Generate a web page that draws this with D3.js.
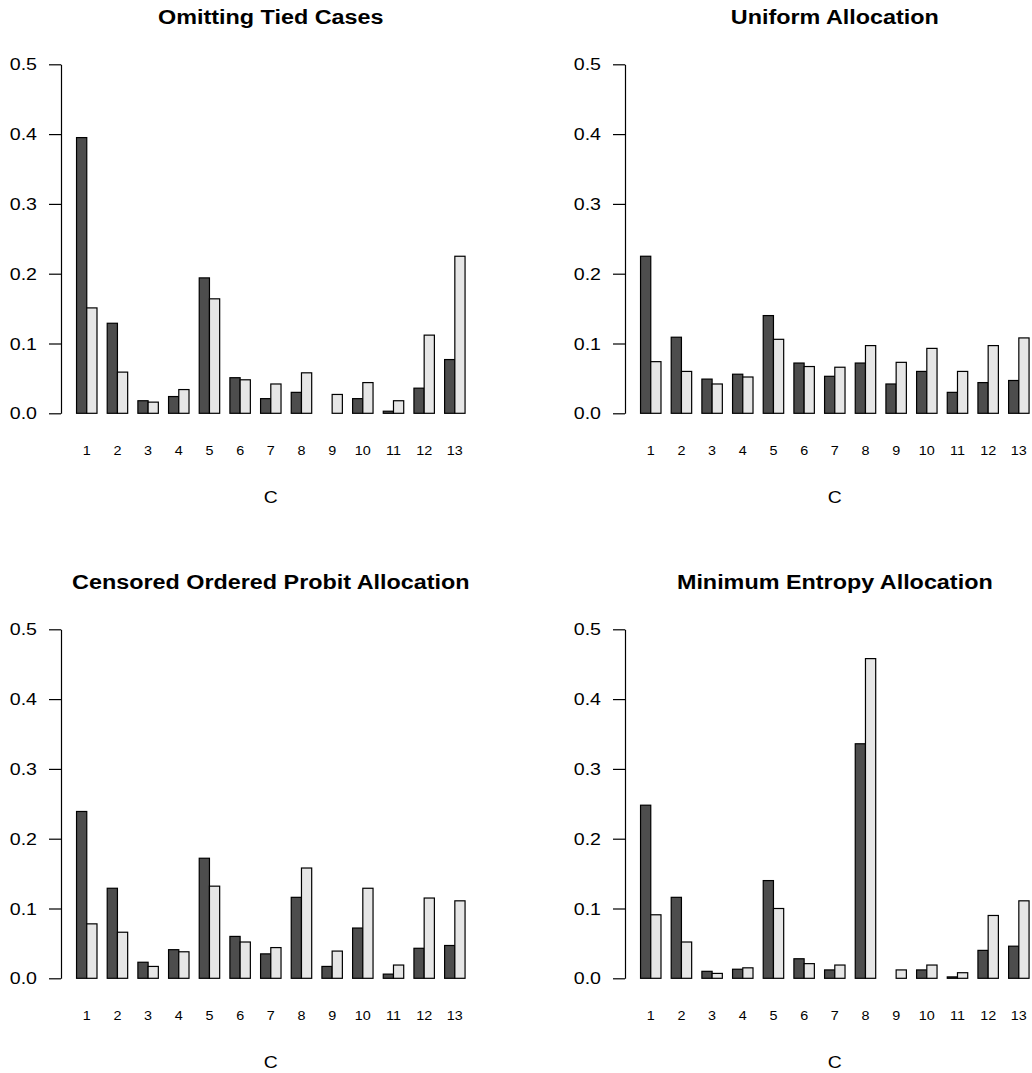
<!DOCTYPE html>
<html>
<head>
<meta charset="utf-8">
<script src="https://cdn.jsdelivr.net/npm/d3@7"></script>
<style>
  body { margin: 0; background: #fff; }
  svg { display: block; font-family: "Liberation Sans", Arial, Helvetica, sans-serif; }
</style>
</head>
<body>
<div id="chart"></div>
<script>
// data
const categories = ['1','2','3','4','5','6','7','8','9','10','11','12','13'];
const yTicks = [0, 0.1, 0.2, 0.3, 0.4, 0.5];
const titles = ['Omitting Tied Cases', 'Uniform Allocation',
                'Censored Ordered Probit Allocation', 'Minimum Entropy Allocation'];

const omitDark    = [0.395, 0.129, 0.018, 0.024, 0.194, 0.051, 0.021, 0.030, 0.000, 0.021, 0.003, 0.036, 0.077];
const omitLight   = [0.151, 0.059, 0.016, 0.034, 0.164, 0.048, 0.042, 0.058, 0.027, 0.044, 0.018, 0.112, 0.225];
const unifDark    = [0.225, 0.109, 0.049, 0.056, 0.140, 0.072, 0.053, 0.072, 0.042, 0.060, 0.030, 0.044, 0.047];
const unifLight   = [0.074, 0.060, 0.042, 0.052, 0.106, 0.067, 0.066, 0.097, 0.073, 0.093, 0.060, 0.097, 0.108];
const probitDark  = [0.239, 0.129, 0.023, 0.041, 0.172, 0.060, 0.035, 0.116, 0.017, 0.072, 0.006, 0.043, 0.047];
const probitLight = [0.078, 0.066, 0.017, 0.038, 0.132, 0.052, 0.044, 0.158, 0.039, 0.129, 0.019, 0.115, 0.111];
const entDark     = [0.248, 0.116, 0.010, 0.013, 0.140, 0.028, 0.012, 0.336, 0.000, 0.012, 0.002, 0.040, 0.046];
const entLight    = [0.091, 0.052, 0.007, 0.015, 0.100, 0.021, 0.019, 0.458, 0.012, 0.019, 0.008, 0.090, 0.111];

const panels = [
  { title: titles[0], dark: omitDark,   light: omitLight,   dx: 0,   dy: 0 },
  { title: titles[1], dark: unifDark,   light: unifLight,   dx: 564, dy: 0 },
  { title: titles[2], dark: probitDark, light: probitLight, dx: 0,   dy: 565 },
  { title: titles[3], dark: entDark,    light: entLight,    dx: 564, dy: 565 }
];

const width = 1032, height = 1073;
const left = 61, right = 480.6, yTop = 64.3, yBottom = 413.3;
const stretch = 1.14; // the reference text is a bit wide for its height

const svg = d3.select('#chart').append('svg')
  .attr('width', width)
  .attr('height', height);

const x0 = d3.scaleBand().domain(categories).range([left, right])
  .paddingInner(1 / 3).paddingOuter(0.5067);
const x1 = d3.scaleBand().domain(['dark', 'light']).range([0, x0.bandwidth()]);
const y = d3.scaleLinear().domain([0, 0.5]).range([yBottom, yTop]);
const fill = { dark: '#4d4d4d', light: '#e6e6e6' };

function wideText(g, x, yPos, txt, size, bold) {
  return g.append('text')
    .attr('transform', `translate(${x},${yPos}) scale(${stretch},1)`)
    .attr('text-anchor', 'middle')
    .style('font-size', size + 'px')
    .style('font-weight', bold ? 'bold' : 'normal')
    .text(txt);
}

panels.forEach(p => {
  const g = svg.append('g').attr('transform', `translate(${p.dx},${p.dy})`);

  // title
  wideText(g, (left + right) / 2, 24, p.title, 20.5, true);

  // bars
  const rows = categories.map((c, i) => ({ c, dark: p.dark[i], light: p.light[i] }));
  const grp = g.selectAll('g.grp').data(rows).enter().append('g')
    .attr('class', 'grp')
    .attr('transform', d => `translate(${x0(d.c)},0)`);
  grp.selectAll('rect')
    .data(d => ['dark', 'light'].map(k => ({ k, v: d[k] })))
    .enter().append('rect')
    .attr('x', d => x1(d.k))
    .attr('y', d => y(d.v))
    .attr('width', x1.bandwidth())
    .attr('height', d => y(0) - y(d.v))
    .attr('fill', d => fill[d.k])
    .attr('stroke', '#000')
    .attr('stroke-width', 1.2);

  // y axis
  const ya = g.append('g')
    .attr('transform', `translate(${left},0)`)
    .call(d3.axisLeft(y).tickValues(yTicks).tickFormat(d3.format('.1f'))
      .tickSize(12).tickSizeOuter(0).tickPadding(12));
  ya.select('.domain').attr('stroke-width', 1.2);
  ya.selectAll('.tick line').attr('stroke-width', 1.2);
  ya.selectAll('text')
    .attr('x', -24 / stretch)
    .attr('transform', `scale(${stretch},1)`)
    .style('font-size', '17.2px').attr('fill', '#000')
    .style('font-family', '"Liberation Sans", Arial, sans-serif');

  // category names
  const xa = g.append('g')
    .attr('transform', `translate(0,446)`)
    .call(d3.axisBottom(x0).tickSize(0).tickPadding(0));
  xa.select('.domain').remove();
  xa.selectAll('text')
    .attr('transform', `scale(${stretch},1)`)
    .style('font-size', '12.6px').attr('fill', '#000')
    .style('font-family', '"Liberation Sans", Arial, sans-serif');

  // x label
  wideText(g, (left + right) / 2, 503, 'C', 17, false);
});
</script>
</body>
</html>
